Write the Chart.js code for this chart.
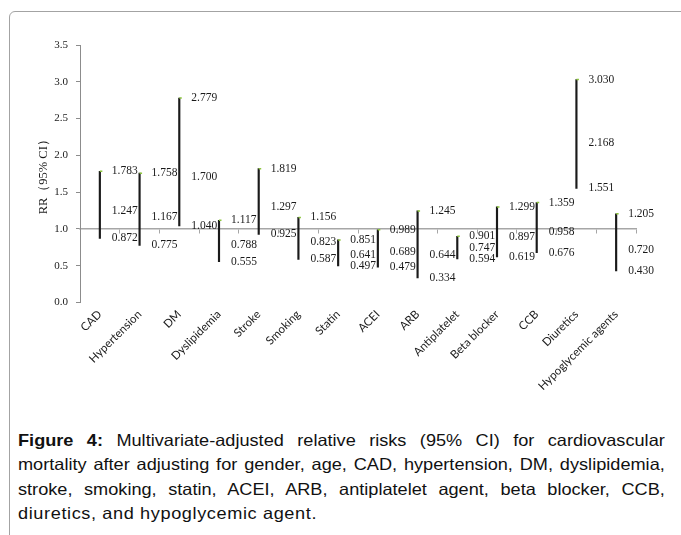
<!DOCTYPE html>
<html>
<head>
<meta charset="utf-8">
<script src="https://cdn.jsdelivr.net/npm/chart.js@4.4.0/dist/chart.umd.min.js"></script>
<style>
  html, body { margin: 0; padding: 0; background: #fff; overflow: hidden; }
  body { width: 681px; height: 535px; position: relative; }
  #frame {
    position: absolute; left: 8.5px; top: 10.5px; width: 720px; height: 600px;
    border: 1px solid #a3a3a3; border-radius: 6px;
  }
  #chartBox { position: absolute; left: 0; top: 0; width: 681px; height: 420px; }
  #caption {
    position: absolute; left: 18px; top: 428px; width: 588px;
    transform: scaleX(1.10); transform-origin: left top;
    font-family: "Liberation Sans", Arial, sans-serif; font-size: 16.5px;
    line-height: 24.3px; color: #111;
  }
  #caption div { text-align: justify; text-align-last: justify; white-space: nowrap; }
  #caption div.last { text-align-last: left; letter-spacing: 0.55px; }
</style>
</head>
<body>
<div id="frame"></div>
<div id="chartBox"><canvas id="rrChart" width="681" height="420"></canvas></div>
<div id="caption">
  <div><b>Figure 4:</b> Multivariate-adjusted relative risks (95% CI) for cardiovascular</div>
  <div>mortality after adjusting for gender, age, CAD, hypertension, DM, dyslipidemia,</div>
  <div>stroke, smoking, statin, ACEI, ARB, antiplatelet agent, beta blocker, CCB,</div>
  <div class="last">diuretics, and hypoglycemic agent.</div>
</div>
<script>
// Datos
const categories = ['CAD', 'Hypertension', 'DM', 'Dyslipidemia', 'Stroke', 'Smoking', 'Statin',
    'ACEI', 'ARB', 'Antiplatelet', 'Beta blocker', 'CCB', 'Diuretics', 'Hypoglycemic agents'];
const highValues = [1.783, 1.758, 2.779, 1.117, 1.819, 1.156, 0.851, 0.989, 1.245, 0.901, 1.299, 1.359, 3.030, 1.205];
const rrValues   = [1.247, 1.167, 1.700, 0.788, 1.297, 0.823, 0.641, 0.689, 0.644, 0.747, 0.897, 0.958, 2.168, 0.720];
const lowValues  = [0.872, 0.775, 1.040, 0.555, 0.925, 0.587, 0.497, 0.479, 0.334, 0.594, 0.619, 0.676, 1.551, 0.430];
const yMin = 0;
const yMax = 3.5;
const yStep = 0.5;
const refLine = 1.0;

// Etiquetas numéricas a la derecha de cada línea
const valueLabels = {
    id: 'valueLabels',
    afterDatasetsDraw(chart) {
        const ctx = chart.ctx;
        const yScale = chart.scales.y;
        const meta = chart.getDatasetMeta(0);
        ctx.save();
        ctx.font = '11.5px "Liberation Serif", "Times New Roman", serif';
        ctx.fillStyle = '#1a1a1a';
        ctx.textAlign = 'left';
        ctx.textBaseline = 'middle';
        meta.data.forEach((bar, i) => {
            const x = bar.x + 12;
            [highValues[i], rrValues[i], lowValues[i]].forEach(v => {
                ctx.fillText(v.toFixed(3), x, yScale.getPixelForValue(v));
            });
        });
        ctx.restore();
    }
};

const ctx = document.getElementById('rrChart').getContext('2d');
new Chart(ctx, {
    type: 'bar',
    data: {
        labels: categories,
        datasets: [{
            label: '95% CI',
            data: lowValues.map((low, i) => [low, highValues[i]]),
            backgroundColor: '#1a1a1a',
            borderWidth: 0,
            barThickness: 1.5,
            grouped: false,
            order: 2
        }, {
            type: 'line',
            label: 'high',
            data: highValues,
            showLine: false,
            pointStyle: 'dash',
            pointRadius: 2.5,
            pointBorderColor: '#8dc63f',
            pointBorderWidth: 1.5,
            order: 1
        }]
    },
    options: {
        responsive: false,
        animation: false,
        devicePixelRatio: 1,
        layout: { padding: { top: 45, right: 45, left: 0, bottom: 0 } },
        plugins: {
            legend: { display: false },
            tooltip: { enabled: false }
        },
        scales: {
            x: {
                type: 'category',
                position: 'bottom',
                offset: true,
                grid: { display: false, drawTicks: false },
                border: { display: false },
                ticks: {
                    autoSkip: false,
                    minRotation: 45,
                    maxRotation: 45,
                    padding: 5,
                    color: '#1a1a1a',
                    font: { family: 'Lato', size: 11.5 }
                },
                afterFit(scale) { scale.height = 117.5; }
            },
            x2: {
                type: 'category',
                position: { y: refLine },
                offset: true,
                grid: {
                    offset: true,
                    drawOnChartArea: false,
                    drawTicks: true,
                    tickLength: 4,
                    color: '#a6a6a6',
                    lineWidth: 1
                },
                border: { display: true, color: '#a6a6a6', width: 1.5 },
                ticks: { display: false }
            },
            y: {
                min: yMin,
                max: yMax,
                grid: {
                    drawOnChartArea: false,
                    drawTicks: true,
                    tickLength: 4,
                    color: '#8c8c8c'
                },
                border: { display: true, color: '#8c8c8c', width: 1 },
                ticks: {
                    stepSize: yStep,
                    padding: 8,
                    color: '#1a1a1a',
                    font: { family: 'Liberation Serif', size: 11 },
                    callback: function(value) { return value.toFixed(1); }
                },
                title: {
                    display: true,
                    text: 'RR（95% CI）',
                    color: '#1a1a1a',
                    font: { family: 'Liberation Serif', size: 12.5 },
                    padding: { top: 36, bottom: 0 }
                },
                afterFit(scale) { scale.width = 80; }
            }
        }
    },
    plugins: [valueLabels]
});
</script>
</body>
</html>
